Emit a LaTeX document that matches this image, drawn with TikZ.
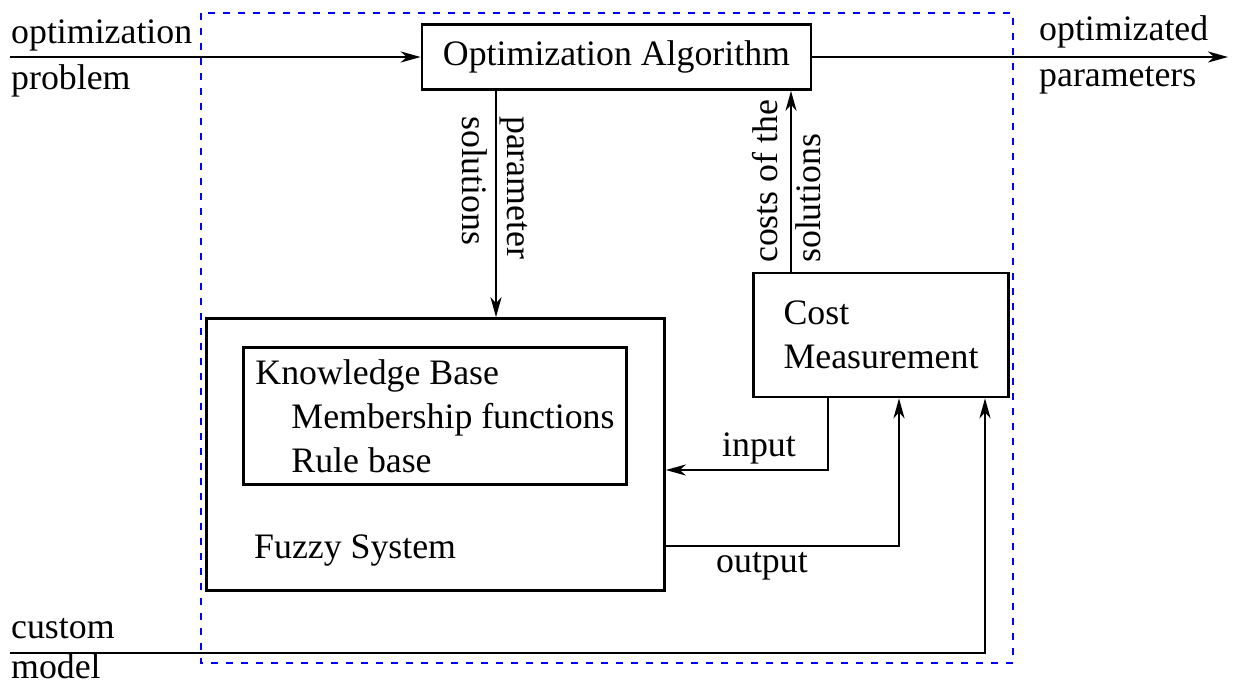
\documentclass[tikz,border=0pt]{standalone}
\usepackage{fontspec}
\setmainfont{Liberation Serif}
\usetikzlibrary{arrows.meta}

\begin{document}
\begin{tikzpicture}[x=1pt,y=-1pt,
    font=\fontsize{35.8}{44}\selectfont,
    block/.style={draw,line width=2.6pt,inner sep=0pt},
    arr/.style={line width=2.6pt,-{Stealth[length=20pt,width=11pt,inset=6pt]}},
    lbl/.style={anchor=base west,inner sep=0pt},
    frame/.style={draw=blue,line width=2.8pt,dash pattern=on 7pt off 8pt}]
    \useasboundingbox (0,0) rectangle (1233,686);

    % Rahmen
    \draw[frame] (201,13) rectangle (1013,663);

    % Bloecke
    \node[block,minimum width=389pt,minimum height=65pt] (opt) at (616.5,57) {Optimization Algorithm};
    \node[block,minimum width=255pt,minimum height=124pt,align=left] (cost) at (881,335) {Cost\\Measurement};
    \node[block,minimum width=458pt,minimum height=272pt] (fuzzy) at (435.5,454.5) {};
    \node[block,minimum width=383pt,minimum height=137pt,align=left] (kb) at (435,416)
        {Knowledge Base\\\hspace*{36pt}Membership functions\\\hspace*{36pt}Rule base};
    \node[lbl] (fuzzyLbl) at (254,558) {Fuzzy System};

    % Hilfspunkte
    \coordinate (probIn) at (10,57);
    \coordinate (paramOut) at (1228,57);
    \coordinate (modelIn) at (10,653);
    \coordinate (xSol) at (496,0);
    \coordinate (xCost) at (791,0);
    \coordinate (xIn) at (828,0);
    \coordinate (xOut) at (899,0);
    \coordinate (xMod) at (985,0);
    \coordinate (yIn) at (0,470);
    \coordinate (yOut) at (0,546);

    % Verbindungen
    \draw[arr] (probIn) -- (opt.west);
    \draw[arr] (opt.east) -- (paramOut);
    \draw[arr] (opt.south -| xSol) -- (fuzzy.north -| xSol);
    \draw[arr] (cost.north -| xCost) -- (opt.south -| xCost);
    \draw[arr] (cost.south -| xIn) |- (fuzzy.east |- yIn);
    \draw[arr] (fuzzy.east |- yOut) -| (cost.south -| xOut);
    \draw[arr] (modelIn) -| (cost.south -| xMod);

    % Beschriftungen
    \node[lbl] (probLbl1) at (11,43) {optimization};
    \node[lbl] (probLbl2) at (11,89) {problem};
    \node[lbl] (parLbl1) at (1039,40) {optimizated};
    \node[lbl] (parLbl2) at (1039,86) {parameters};
    \node[lbl] (modLbl1) at (11,638) {custom};
    \node[lbl] (modLbl2) at (11,678) {model};
    \node[lbl] (inLbl) at (722,456) {input};
    \node[lbl] (outLbl) at (716,572) {output};
    \node[lbl,rotate=-90] (solLbl1) at (507,116) {parameter};
    \node[lbl,rotate=-90] (solLbl2) at (462,116) {solutions};
    \node[lbl,rotate=90] (costLbl1) at (777,263) {costs of the};
    \node[lbl,rotate=90] (costLbl2) at (820,263) {solutions};
\end{tikzpicture}
\end{document}
